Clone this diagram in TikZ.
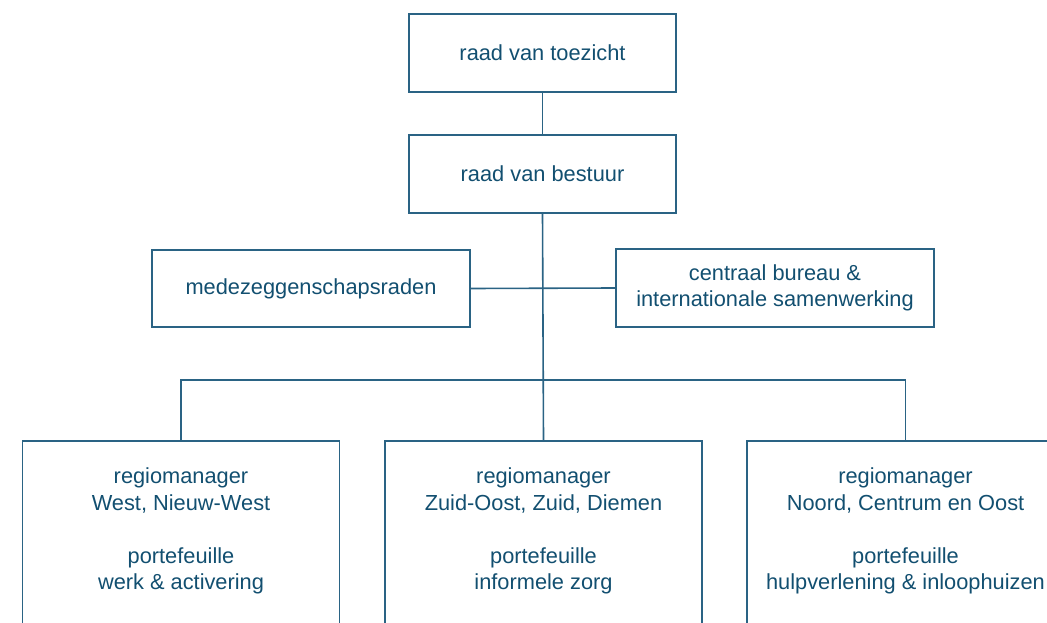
\documentclass[tikz,border=0pt]{standalone}
\usepackage{fontspec}
\setmainfont{Liberation Sans}
\definecolor{linec}{HTML}{2A6384}
\definecolor{textc}{HTML}{124F70}
\begin{document}
\begin{tikzpicture}[x=1pt,y=-1pt,
  box/.style={draw=linec, line width=1.6pt, rectangle, inner sep=0pt, text=textc, align=center,
     font=\fontsize{21.8pt}{26.5pt}\selectfont},
  conn/.style={draw=linec, line width=1.6pt},
  lbl/.style={text=textc, align=center, inner sep=0pt, font=\fontsize{21.8pt}{26.5pt}\selectfont}]
\useasboundingbox (0,0) rectangle (1047,623);
\clip (0,0) rectangle (1047,623);
\node[box, minimum width=267pt, minimum height=78pt] (rvt) at (542.5,53) {raad van toezicht};
\node[box, minimum width=267pt, minimum height=78pt] (rvb) at (542.5,174) {raad van bestuur};
\node[box, minimum width=318pt, minimum height=77pt] (mz) at (311,288.5) {medezeggenschapsraden};
\node[box, minimum width=318pt, minimum height=78pt] (cb) at (775,288) {centraal bureau \&\\internationale samenwerking};
\node[box, anchor=north, minimum width=317pt, minimum height=300pt] (bl) at (181,440) {};
\node[box, anchor=north, minimum width=317pt, minimum height=300pt] (bm) at (543.5,440) {};
\node[box, anchor=north, minimum width=317pt, minimum height=300pt] (br) at (905.5,440) {};
\node[lbl] (tl) at (181,531) {regiomanager\\West, Nieuw-West\\[26.5pt]portefeuille\\werk \& activering};
\node[lbl] (tm) at (543.5,531) {regiomanager\\Zuid-Oost, Zuid, Diemen\\[26.5pt]portefeuille\\informele zorg};
\node[lbl] (tr) at (905.5,531) {regiomanager\\Noord, Centrum en Oost\\[26.5pt]portefeuille\\hulpverlening \& inloophuizen};
\coordinate (hub) at (543.5,380);
\draw[conn] (rvt.south) -- (rvb.north);
\draw[conn] (rvb.south) -- (bm.north);
\draw[conn] (mz.east) -- (cb.west);
\draw[conn] (bl.north) -- (bl.north |- hub) -- (br.north |- hub) -- (br.north);
\end{tikzpicture}
\end{document}
